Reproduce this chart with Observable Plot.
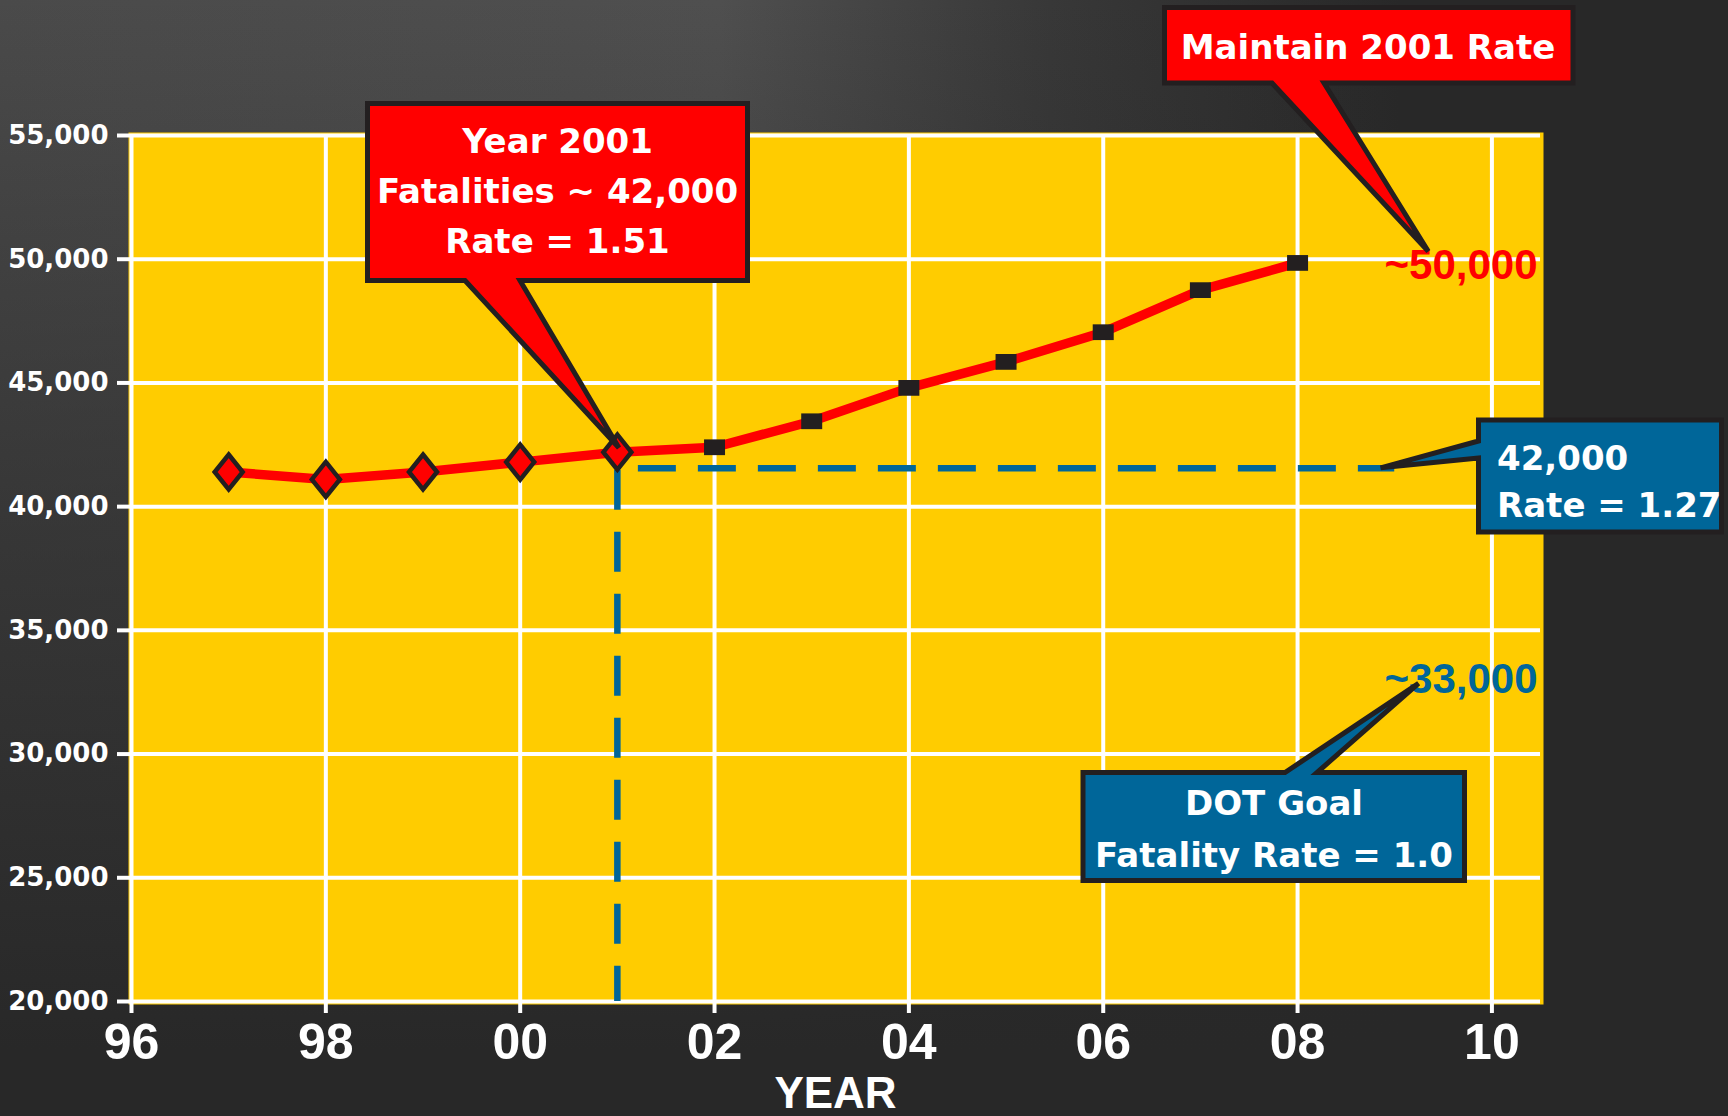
<!DOCTYPE html>
<html>
<head>
<meta charset="utf-8">
<script src="https://cdn.jsdelivr.net/npm/d3@7"></script>
<script src="https://cdn.jsdelivr.net/npm/@observablehq/plot@0.6"></script>
<style>
html, body { margin: 0; padding: 0; width: 1728px; height: 1116px; overflow: hidden; }
body {
  background:
    linear-gradient(to bottom, rgba(40,40,40,0) 0px, rgba(40,40,40,0.55) 500px, rgba(40,40,40,1) 1050px),
    linear-gradient(to right, #4a4a4a 0px, #4f4f4f 720px, #383838 1050px, #282828 1400px);
}
#chart { position: absolute; left: 0; top: 0; }
</style>
</head>
<body>
<div id="chart"></div>
<script>
// ---- data ----
const years = [1997, 1998, 1999, 2000, 2001, 2002, 2003, 2004, 2005, 2006, 2007, 2008];
const fatalities = [41400, 41100, 41400, 41800, 42200, 42400, 43450, 44800, 45850, 47050, 48750, 49850];
const lastActualYear = 2001;
const xTicks = [1996, 1998, 2000, 2002, 2004, 2006, 2008, 2010];
const xTickLabels = ["96", "98", "00", "02", "04", "06", "08", "10"];
const yTicks = [20000, 25000, 30000, 35000, 40000, 45000, 50000, 55000];
const xLabel = "YEAR";
// reference (maintain 2001 fatalities) dashed lines
const refYear = 2001;
const refEndYear = 2009;
const refValue = 41550;
// end labels
const projectedLabel = "~50,000";
const projectedLabelValue = 50000;
const goalLabel = "~33,000";
const goalLabelValue = 33000;
// callout texts
const calloutYear2001 = ["Year 2001", "Fatalities ~ 42,000", "Rate = 1.51"];
const calloutMaintain = ["Maintain 2001 Rate"];
const calloutRef = ["42,000", "Rate = 1.27"];
const calloutGoal = ["DOT Goal", "Fatality Rate = 1.0"];

const RED = "#ff0000", BLUE = "#006699", DARK = "#231f20", YELLOW = "#ffcc00";

const data = years.map((y, i) => ({year: y, value: fatalities[i]}));
const actual = data.filter(d => d.year <= lastActualYear);
const projected = data.filter(d => d.year > lastActualYear);

const tallDiamond = {
  draw(ctx, size) {
    const r = Math.sqrt(size / Math.PI);
    const w = r * 0.8;
    ctx.moveTo(0, -r); ctx.lineTo(w, 0); ctx.lineTo(0, r); ctx.lineTo(-w, 0); ctx.closePath();
  }
};
const wideRect = {
  draw(ctx, size) {
    const r = Math.sqrt(size / Math.PI);
    const h = r * 0.75;
    ctx.rect(-r, -h, 2 * r, 2 * h);
  }
};

const chart = Plot.plot({
  width: 1728,
  height: 1116,
  marginLeft: 131,
  marginRight: 188,
  marginTop: 135,
  marginBottom: 115,
  style: {background: "transparent", color: "white", overflow: "visible", fontFamily: "DejaVu Sans"},
  x: {domain: [1996, 2010.5]},
  y: {domain: [20000, 55000]},
  marks: [
    Plot.frame({fill: YELLOW, stroke: null, inset: -3}),
    Plot.gridX(xTicks, {stroke: "white", strokeOpacity: 1, strokeWidth: 4}),
    Plot.gridY(yTicks, {stroke: "white", strokeOpacity: 1, strokeWidth: 4}),
    Plot.ruleY([refValue], {x1: refYear, x2: refEndYear, stroke: BLUE, strokeWidth: 6.5, strokeDasharray: "38,22", strokeDashoffset: 39}),
    Plot.ruleX([refYear], {y1: refValue, y2: 20000, stroke: BLUE, strokeWidth: 6.5, strokeDasharray: "40,22", strokeDashoffset: -2}),
    Plot.line(data, {x: "year", y: "value", stroke: RED, strokeWidth: 9.5}),
    Plot.dot(actual, {x: "year", y: "value", symbol: tallDiamond, r: 17.5, fill: RED, stroke: DARK, strokeWidth: 4.5}),
    Plot.dot(projected, {x: "year", y: "value", symbol: wideRect, r: 10.5, fill: DARK, stroke: null}),
    Plot.text([projectedLabel], {frameAnchor: "right", y: projectedLabelValue, dx: -3, dy: 6, textAnchor: "end", fill: RED, fontSize: 42, fontWeight: "bold", fontFamily: "Liberation Sans"}),
    Plot.text([goalLabel], {frameAnchor: "right", y: goalLabelValue, dx: -3, textAnchor: "end", fill: BLUE, fontSize: 42, fontWeight: "bold", fontFamily: "Liberation Sans"}),
    Plot.axisY({ticks: yTicks, tickFormat: d3.format(","), tickSize: 14, tickPadding: 9, strokeWidth: 4, fontSize: 26, fontWeight: "bold", fontFamily: "DejaVu Sans", label: null}),
    Plot.axisX({ticks: xTicks, tickFormat: (d) => xTickLabels[xTicks.indexOf(d)], tickSize: 12, tickPadding: 10, strokeWidth: 4, fontSize: 50, fontWeight: "bold", fontFamily: "Liberation Sans", label: null})
  ]
});
document.getElementById("chart").appendChild(chart);

// ---- callouts (boxes positioned in pixels, tips anchored to data via scales) ----
const xs = chart.scale("x"), ys = chart.scale("y");
const X = v => xs.apply(v), Y = v => ys.apply(v);
const svg = d3.select(chart);
const g = svg.append("g").attr("class", "callouts");

// x-axis title, centred under the plot frame
g.append("text").text(xLabel)
  .attr("x", (X(1996) + X(2010.5)) / 2).attr("y", 1108)
  .attr("text-anchor", "middle").attr("fill", "white")
  .attr("font-family", "Liberation Sans").attr("font-weight", "bold").attr("font-size", 44);

function callout({box: [x0, y0, x1, y1], side, base: [b0, b1], tip, fill, lines, anchor, tx, baselines}) {
  const pts = [];
  if (side === "bottom") {
    pts.push([x0, y0], [x1, y0], [x1, y1], [b1, y1], tip, [b0, y1], [x0, y1]);
  } else if (side === "top") {
    pts.push([x0, y0], [b0, y0], tip, [b1, y0], [x1, y0], [x1, y1], [x0, y1]);
  } else if (side === "left") {
    pts.push([x0, y0], [x1, y0], [x1, y1], [x0, y1], [x0, b1], tip, [x0, b0]);
  }
  g.append("path")
    .attr("d", "M" + pts.map(p => p.join(",")).join("L") + "Z")
    .attr("fill", fill).attr("stroke", DARK).attr("stroke-width", 5).attr("stroke-linejoin", "miter");
  lines.forEach((t, i) => {
    g.append("text").text(t)
      .attr("x", tx).attr("y", baselines[i])
      .attr("text-anchor", anchor)
      .attr("fill", "white")
      .attr("font-family", "DejaVu Sans")
      .attr("font-weight", "bold")
      .attr("font-size", 34);
  });
}

callout({box: [367.5, 103.5, 747.5, 280.5], side: "bottom", base: [465, 520],
  tip: [X(refYear) + 2, Y(fatalities[years.indexOf(refYear)]) - 4], fill: RED,
  lines: calloutYear2001, anchor: "middle", tx: 557.5, baselines: [153, 203, 253]});
callout({box: [1164.5, 7.5, 1573, 83], side: "bottom", base: [1272, 1324],
  tip: [X(2009.35), Y(50300)], fill: RED,
  lines: calloutMaintain, anchor: "middle", tx: 1368, baselines: [59]});
callout({box: [1478.5, 420, 1721.5, 532], side: "left", base: [441, 458],
  tip: [X(2008.86), Y(refValue)], fill: BLUE,
  lines: calloutRef, anchor: "start", tx: 1497, baselines: [470, 517]});
callout({box: [1083, 772.5, 1464.5, 880.5], side: "top", base: [1285, 1317],
  tip: [X(2009.25), Y(goalLabelValue) + 4], fill: BLUE,
  lines: calloutGoal, anchor: "middle", tx: 1274, baselines: [815, 867]});
</script>
</body>
</html>
